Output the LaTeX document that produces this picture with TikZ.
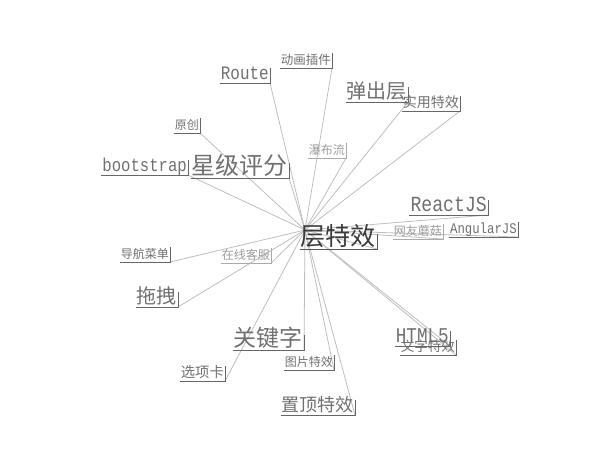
\documentclass[tikz,border=0pt]{standalone}
\usepackage{fontspec}
\setmainfont{Liberation Serif}
\newfontfamily\cjkf{Noto Sans CJK SC}
\newfontfamily\latf[FakeStretch=0.84]{Liberation Mono}
\usetikzlibrary{backgrounds}
\definecolor{txt}{HTML}{707070}
\definecolor{txtlight}{HTML}{9C9C9C}
\definecolor{txtdark}{HTML}{3A3A3A}
\definecolor{bdr}{HTML}{666666}
\definecolor{bdrlight}{HTML}{AAAAAA}
\definecolor{linkc}{HTML}{BEBEBE}
\begin{document}
\begin{tikzpicture}[x=1pt,y=-1pt,
  tag/.style={anchor=south east, inner xsep=1pt, inner ysep=1.5pt,
    text height=1.05em, text depth=0.14em, text=txt},
  light/.style={text=txtlight},
  dark/.style={text=txtdark},
  cj/.style={font=\cjkf\fontsize{#1}{#1}\selectfont},
  mo/.style={font=\latf\fontsize{#1}{#1}\selectfont},
  bd/.style={draw=bdr, line width=0.9pt},
  bdl/.style={draw=bdrlight, line width=0.9pt},
  bdd/.style={draw=bdr!85!black, line width=0.9pt},
  link/.style={draw=linkc, line width=0.8pt}
]
\useasboundingbox (0,0) rectangle (608,461);
\coordinate (hub) at (305,230);

\node[tag,mo=19] (route) at (270,83) {Route};
\node[tag,cj=12.5] (dhcj) at (332,68) {动画插件};
\node[tag,cj=20] (tcc) at (408,102) {弹出层};
\node[tag,cj=14] (syt) at (460,111) {实用特效};
\node[tag,cj=12] (yc) at (200,133) {原创};
\node[tag,mo=18.6] (bs) at (188,175) {bootstrap};
\node[tag,cj=24] (xjpf) at (289,178) {星级评分};
\node[tag,light,cj=12] (pbl) at (346,158) {瀑布流};
\node[tag,mo=21.6] (react) at (488,215) {ReactJS};
\node[tag,dark,cj=25] (center) at (377,249) {层特效};
\node[tag,light,cj=12] (wymg) at (443,239) {网友蘑菇};
\node[tag,mo=14.7] (ng) at (518,237) {AngularJS};
\node[tag,cj=12] (dhcd) at (170,262) {导航菜单};
\node[tag,light,cj=12] (zxkf) at (271,263) {在线客服};
\node[tag,cj=20] (tz) at (178,307) {拖拽};
\node[tag,cj=23] (gjz) at (304,350) {关键字};
\node[tag,mo=21] (html) at (450,346) {HTML5};
\node[tag,cj=13.5] (wztx) at (456,355) {文字特效};
\node[tag,cj=12] (tptx) at (334,370) {图片特效};
\node[tag,cj=14.3] (xxk) at (225,381) {选项卡};
\node[tag,cj=18] (zdtx) at (355,415) {置顶特效};

\foreach \n in {route,dhcj,tcc,syt,yc,bs,xjpf,react,ng,dhcd,tz,gjz,html,wztx,tptx,xxk,zdtx}
  \draw[bd] (\n.south west) -| (\n.north east);
\foreach \n in {pbl,wymg,zxkf}
  \draw[bdl] (\n.south west) -| (\n.north east);
\draw[bdd] (center.south west) -| (center.north east);

\begin{scope}[on background layer]
\foreach \n in {route,dhcj,tcc,syt,yc,bs,xjpf,pbl,react,center,wymg,ng,dhcd,zxkf,tz,gjz,html,wztx,tptx,xxk,zdtx}
  \draw[link] (\n.south east) -- (hub);
\end{scope}
\end{tikzpicture}
\end{document}
